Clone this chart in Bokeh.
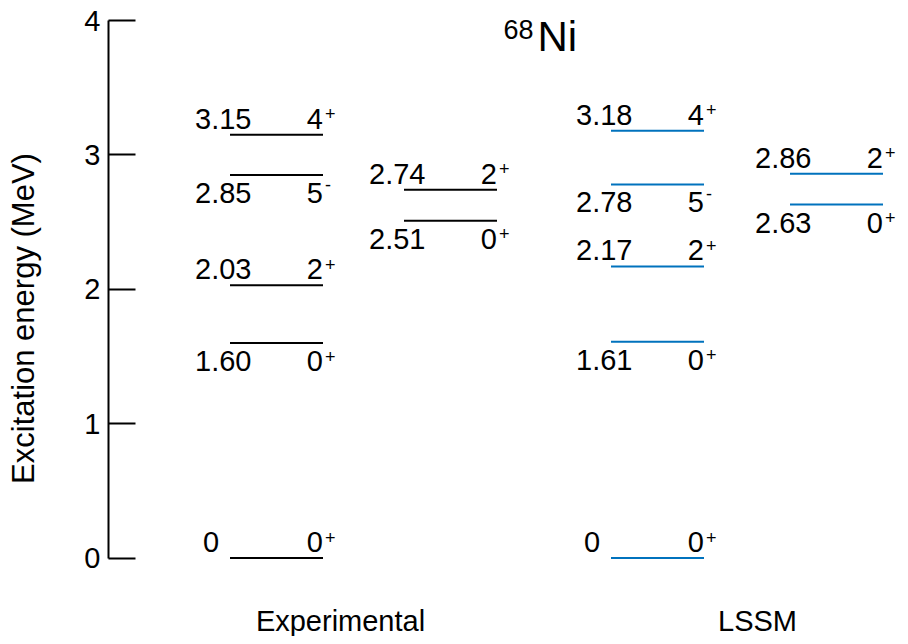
from bokeh.plotting import figure
from bokeh.models import Range1d, FixedTicker, ColumnDataSource
from bokeh.core.properties import value
from bokeh.embed import file_html
from bokeh.resources import INLINE

# ---------------- data ----------------
exp_energy = [0.0, 1.60, 2.03, 2.85, 3.15, 2.51, 2.74]
exp_spin = ["0", "0", "2", "5", "4", "0", "2"]
exp_parity = ["+", "+", "+", "-", "+", "+", "+"]
exp_column = [0, 0, 0, 0, 0, 1, 1]
exp_label_above = [True, False, True, False, True, False, True]

lssm_energy = [0.0, 1.61, 2.17, 2.78, 3.18, 2.63, 2.86]
lssm_spin = ["0", "0", "2", "5", "4", "0", "2"]
lssm_parity = ["+", "+", "+", "-", "+", "+", "+"]
lssm_column = [0, 0, 0, 0, 0, 1, 1]
lssm_label_above = [True, False, True, False, True, False, True]

y_ticks = [0, 1, 2, 3, 4]
group_names = ["Experimental", "LSSM"]
nucleus_mass = "68"
nucleus_symbol = "Ni"
y_label = "Excitation energy (MeV)"

# ---------------- layout / style ----------------
W, H = 900, 636
FRAME_LEFT = 108
PX_PER_MEV = 134.375
Y_TOP_PX = 20          # canvas px of y=4
Y_ZERO_PX = 557.5      # canvas px of y=0
y_top = 4 + Y_TOP_PX / PX_PER_MEV
y_bottom = -(H - Y_ZERO_PX) / PX_PER_MEV

col_centers = {"exp": [168, 342], "lssm": [549, 728]}
group_label_x = [232, 649]
HALF = 46.5
FONT = value("Liberation Sans")
colors = {"exp": "black", "lssm": "#0072BD"}

p = figure(width=W, height=H, output_backend="svg", toolbar_location=None,
           x_range=Range1d(0, W - FRAME_LEFT), y_range=Range1d(y_bottom, y_top),
           x_axis_type=None, y_axis_location="left",
           min_border_left=FRAME_LEFT, min_border_right=0,
           min_border_top=0, min_border_bottom=0)
p.outline_line_color = None
p.grid.visible = False
p.background_fill_color = "white"
p.border_fill_color = "white"

ax = p.yaxis[0]
ax.ticker = FixedTicker(ticks=y_ticks)
ax.bounds = (0, 4)
ax.axis_line_width = 2
ax.axis_line_color = "black"
ax.major_tick_in = 27
ax.major_tick_out = 0
ax.major_tick_line_width = 2
ax.minor_tick_line_color = None
ax.major_label_standoff = 8
ax.major_label_text_font = "Liberation Sans"
ax.major_label_text_font_size = "29px"
ax.major_label_text_color = "black"
ax.axis_label = y_label
ax.axis_label_text_font = "Liberation Sans"
ax.axis_label_text_font_size = "31px"
ax.axis_label_text_font_style = "normal"
ax.axis_label_text_color = "black"
ax.axis_label_standoff = 40


def add_scheme(key, energy, spin, parity, column, above):
    xc = [col_centers[key][c] for c in column]
    x0 = [x - HALF for x in xc]
    x1 = [x + HALF for x in xc]
    elab = ["0" if e == 0 else f"{e:.2f}" for e in energy]
    yoff = [-16 if a else 18 for a in above]
    xoff = [-35 + (8 if e == 0 else 0) for e in energy]
    soff = [yo - (5 if s == "+" else 9) for yo, s in zip(yoff, parity)]
    src = ColumnDataSource(dict(x0=x0, x1=x1, y=energy, elab=elab, spin=spin,
                                parity=parity, yoff=yoff, xoff=xoff, soff=soff))
    p.segment(x0="x0", x1="x1", y0="y", y1="y", source=src,
              line_color=colors[key], line_width=2)
    p.text(x="x0", y="y", text="elab", x_offset="xoff", y_offset="yoff",
           source=src, text_font=FONT, text_font_size="29px",
           text_align="left", text_baseline="alphabetic", text_color="black")
    p.text(x="x1", y="y", text="spin", y_offset="yoff", source=src,
           text_font=FONT, text_font_size="29px",
           text_align="right", text_baseline="alphabetic", text_color="black")
    p.text(x="x1", y="y", text="parity", x_offset=2, y_offset="soff", source=src,
           text_font=FONT, text_font_size="18px",
           text_align="left", text_baseline="alphabetic", text_color="black")


add_scheme("exp", exp_energy, exp_spin, exp_parity, exp_column, exp_label_above)
add_scheme("lssm", lssm_energy, lssm_spin, lssm_parity, lssm_column, lssm_label_above)

# group labels under the schemes
p.text(x=group_label_x, y=[0, 0], text=group_names, y_offset=63,
       text_font=FONT, text_font_size="29px", text_align="center",
       text_baseline="alphabetic", text_color="black")

# nucleus title
p.text(x=[429], y=[4], text=[nucleus_symbol], y_offset=16,
       text_font=FONT, text_font_size="42px", text_align="left",
       text_baseline="alphabetic", text_color="black")
p.text(x=[425], y=[4], text=[nucleus_mass], y_offset=9,
       text_font=FONT, text_font_size="27px", text_align="right",
       text_baseline="alphabetic", text_color="black")

open("out.html", "w").write(file_html(p, INLINE))
